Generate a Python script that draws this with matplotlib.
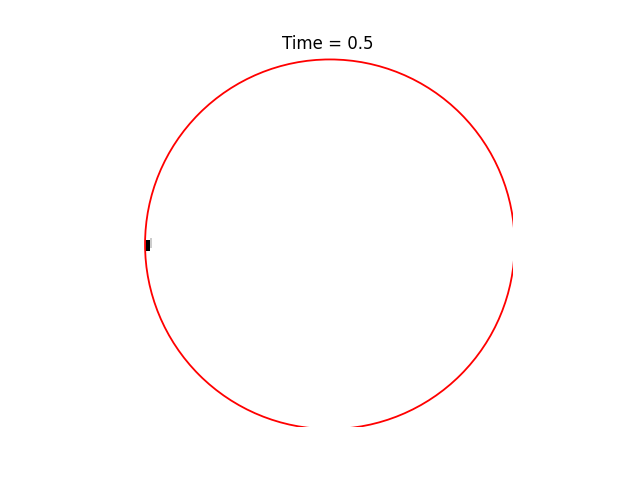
import matplotlib
matplotlib.use("Agg")
import matplotlib.pyplot as plt
from matplotlib.patches import Circle, Rectangle

time_value = 0.5
ring_center = (0.01, -0.01)
ring_radius = 1.0
marker_box = (-0.985, -0.045, 0.022, 0.06)

fig, ax = plt.subplots(figsize=(6.4, 4.8), dpi=100)

ring = Circle(ring_center, ring_radius, fill=False, edgecolor='red', linewidth=1.3)
ax.add_patch(ring)

x0, y0, w, h = marker_box
ax.add_patch(Rectangle((x0 + w, y0 + 0.015), 0.012, h - 0.005, color='0.8', linewidth=0))
ax.add_patch(Rectangle((x0, y0), w, h, color='black', linewidth=0))

ax.set_xlim(-1, 1)
ax.set_ylim(-1, 1)
ax.set_aspect('equal')
ax.axis('off')
ax.set_title("Time = {}".format(time_value))

fig.savefig("out.png")
